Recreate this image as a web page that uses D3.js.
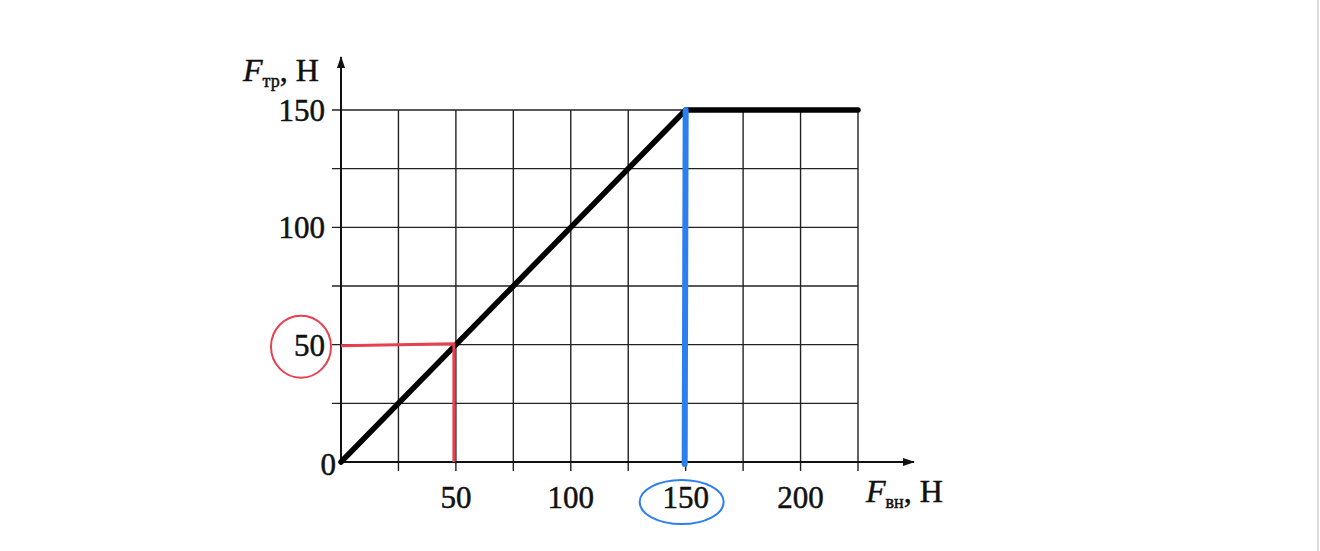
<!DOCTYPE html>
<html>
<head>
<meta charset="utf-8">
<script src="https://cdn.jsdelivr.net/npm/d3@7"></script>
<style>
html,body{margin:0;padding:0;background:#fff;}
svg{display:block;}
text{font-family:"Liberation Serif","Times New Roman",serif;fill:#111;stroke:#111;stroke-width:0.5;}
</style>
</head>
<body>
<svg id="c" width="1320" height="551"></svg>
<script>
// ---- data ----
const lineX = [0, 150, 225];
const lineY = [0, 150, 150];
const gridX = [25, 50, 75, 100, 125, 150, 175, 200, 225];
const gridY = [25, 50, 75, 100, 125, 150];
const xTickLabels = [50, 100, 150, 200];
const yTickLabels = [0, 50, 100, 150];
const redMark = [50, 50];      // (x, y) marked in red
const blueMark = [150, 150];   // (x, y) marked in blue
const xTitle = ["F", "вн", ", Н"];
const yTitle = ["F", "тр", ", Н"];

// ---- layout ----
const svg = d3.select("#c");
const x = d3.scaleLinear().domain([0, 225]).range([341, 858]);
const y = d3.scaleLinear().domain([0, 150]).range([462, 110]);

svg.append("line").attr("x1",1318).attr("x2",1318).attr("y1",0).attr("y2",551)
  .attr("stroke","#dcdcdc").attr("stroke-width",2);

// grid
const g = svg.append("g");
g.selectAll("line.gx").data(gridX).enter().append("line")
  .attr("x1", d=>x(d)).attr("x2", d=>x(d))
  .attr("y1", y(150)).attr("y2", y(0)+9)
  .attr("stroke","#222").attr("stroke-width",1.4);
g.selectAll("line.gy").data(gridY).enter().append("line")
  .attr("x1", x(0)-9).attr("x2", x(225))
  .attr("y1", d=>y(d)).attr("y2", d=>y(d))
  .attr("stroke","#222").attr("stroke-width",1.4);

// axes with arrows
const defs = svg.append("defs");
defs.append("marker").attr("id","arr").attr("viewBox","0 0 12 8")
  .attr("refX",11).attr("refY",4).attr("markerWidth",12).attr("markerHeight",8)
  .attr("markerUnits","userSpaceOnUse").attr("orient","auto")
  .append("path").attr("d","M0,0 L12,4 L0,8 Z").attr("fill","#111");
svg.append("line").attr("x1",x(0)).attr("y1",y(0)).attr("x2",914).attr("y2",y(0))
  .attr("stroke","#111").attr("stroke-width",2).attr("marker-end","url(#arr)");
svg.append("line").attr("x1",x(0)).attr("y1",y(0)).attr("x2",x(0)).attr("y2",57)
  .attr("stroke","#111").attr("stroke-width",2).attr("marker-end","url(#arr)");

// tick labels
svg.selectAll("text.xt").data(xTickLabels).enter().append("text")
  .attr("x", d=>x(d)).attr("y", 508).attr("text-anchor","middle")
  .attr("font-size",31).text(d=>d);
svg.selectAll("text.yt").data(yTickLabels).enter().append("text")
  .attr("x", d=> d===0 ? 336 : 325).attr("y", d=>y(d)+ (d===0 ? 13 : 11))
  .attr("text-anchor","end").attr("font-size",31).text(d=>d);

// axis titles
function title(px, py, parts){
  const t = svg.append("text").attr("x",px).attr("y",py).attr("font-size",32);
  t.append("tspan").attr("font-style","italic").text(parts[0]);
  t.append("tspan").attr("font-size",18).attr("dy",6).text(parts[1]);
  t.append("tspan").attr("dy",-6).text(parts[2]);
}
title(243, 81, yTitle);
title(866, 502, xTitle);

// main line
const lineData = lineX.map((d,i)=>[d, lineY[i]]);
svg.append("path").datum(lineData)
  .attr("d", d3.line().x(d=>x(d[0])).y(d=>y(d[1])))
  .attr("fill","none").attr("stroke","#000").attr("stroke-width",5.5)
  .attr("stroke-linecap","round").attr("stroke-linejoin","round");

// red annotation
const red = "#e8404f";
svg.append("path")
  .attr("d", `M${x(0)},${y(redMark[1])+1} L${x(redMark[0])-2},${y(redMark[1])-1} L${x(redMark[0])-2},${y(0)}`)
  .attr("fill","none").attr("stroke",red).attr("stroke-width",3).attr("stroke-linejoin","round");
svg.append("ellipse").attr("cx",301).attr("cy",y(redMark[1])+2).attr("rx",30).attr("ry",31)
  .attr("fill","none").attr("stroke",red).attr("stroke-width",2);

// blue annotation
const blue = "#2d7ff0";
svg.append("line").attr("x1",x(blueMark[0])).attr("x2",x(blueMark[0])-1)
  .attr("y1",y(blueMark[1])).attr("y2",y(0)+2)
  .attr("stroke",blue).attr("stroke-width",6).attr("stroke-linecap","round");
svg.append("ellipse").attr("cx",x(blueMark[0])-4).attr("cy",502).attr("rx",42).attr("ry",22)
  .attr("fill","none").attr("stroke",blue).attr("stroke-width",2);
</script>
</body>
</html>
